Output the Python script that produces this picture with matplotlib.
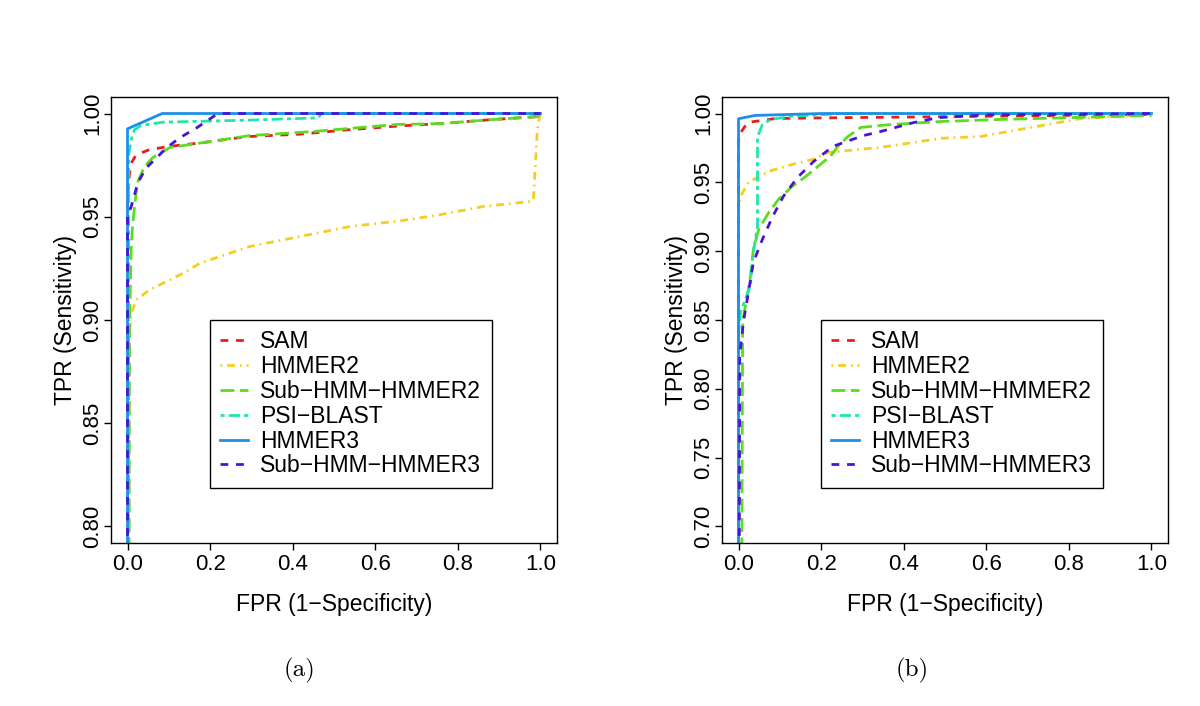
import matplotlib
matplotlib.use("Agg")
import matplotlib.pyplot as plt

plt.rcParams['font.family'] = ['Liberation Sans', 'DejaVu Sans']

# legend order / labels
methods = ['SAM', 'HMMER2', 'Sub−HMM−HMMER2', 'PSI−BLAST', 'HMMER3', 'Sub−HMM−HMMER3']

# ---- panel (a) ----
sam_a_fpr = [0, 0, 0.005, 0.009, 0.021, 0.053, 0.102, 0.182, 0.289, 0.417, 0.539, 0.66, 0.757, 0.879, 0.993, 1.0]
sam_a_tpr = [0, 0.96, 0.971, 0.976, 0.980, 0.9825, 0.9841, 0.9859, 0.9888, 0.990, 0.9922, 0.994, 0.9951, 0.997, 0.9985, 1.0]

hmmer2_a_fpr = [0, 0.003, 0.009, 0.021, 0.053, 0.094, 0.142, 0.175, 0.296, 0.417, 0.539, 0.66, 0.757, 0.862, 0.976, 0.983, 0.992, 0.9975, 1.0]
hmmer2_a_tpr = [0, 0.89, 0.903, 0.9097, 0.9146, 0.9186, 0.9234, 0.9275, 0.9356, 0.9404, 0.9453, 0.948, 0.951, 0.955, 0.9574, 0.958, 0.991, 0.9987, 1.0]

sub2_a_fpr = [0, 0.004, 0.005, 0.009, 0.012, 0.017, 0.024, 0.041, 0.061, 0.102, 0.182, 0.296, 0.45, 0.652, 0.757, 0.879, 0.993, 1.0]
sub2_a_tpr = [0, 0.80, 0.90, 0.935, 0.945, 0.955, 0.9665, 0.9743, 0.9786, 0.9835, 0.9859, 0.9893, 0.9913, 0.9947, 0.9951, 0.997, 0.9985, 1.0]

psi_a_fpr = [0, 0.003, 0.009, 0.017, 0.033, 0.085, 0.296, 0.461, 0.47, 1.0]
psi_a_tpr = [0, 0.98, 0.9874, 0.9922, 0.9942, 0.9958, 0.9968, 0.9979, 1.0, 1.0]

hmmer3_a_fpr = [0, 0, 0.084, 1.0]
hmmer3_a_tpr = [0, 0.9926, 1.0, 1.0]

sub3_a_fpr = [0, 0, 0.009, 0.017, 0.025, 0.045, 0.07, 0.094, 0.126, 0.167, 0.215, 0.225, 1.0]
sub3_a_tpr = [0, 0.950, 0.955, 0.9607, 0.9665, 0.9736, 0.9785, 0.9833, 0.9882, 0.993, 0.9995, 1.0, 1.0]

# ---- panel (b) ----
sam_b_fpr = [0, 0, 0.005, 0.022, 0.09, 0.26, 0.6, 1.0]
sam_b_tpr = [0, 0.98, 0.986, 0.9935, 0.9964, 0.997, 0.998, 0.9993]

hmmer2_b_fpr = [0, 0, 0.005, 0.024, 0.046, 0.073, 0.13, 0.18, 0.218, 0.26, 0.345, 0.425, 0.49, 0.587, 0.636, 0.709, 0.83, 1.0]
hmmer2_b_tpr = [0, 0.93, 0.94, 0.95, 0.9536, 0.958, 0.963, 0.9667, 0.9717, 0.973, 0.9754, 0.979, 0.982, 0.9833, 0.986, 0.9899, 0.9964, 0.9993]

sub2_b_fpr = [0, 0.008, 0.01, 0.024, 0.029, 0.036, 0.049, 0.073, 0.097, 0.13, 0.163, 0.204, 0.223, 0.243, 0.265, 0.296, 0.369, 0.49, 0.636, 1.0]
sub2_b_tpr = [0, 0.68, 0.849, 0.8725, 0.882, 0.9014, 0.916, 0.928, 0.9377, 0.947, 0.9543, 0.9645, 0.969, 0.977, 0.9833, 0.9899, 0.992, 0.9942, 0.9957, 0.9986]

psi_b_fpr = [0, 0, 0.005, 0.029, 0.034, 0.046, 0.046, 0.058, 0.078, 0.13, 0.25, 1.0]
psi_b_tpr = [0, 0.84, 0.856, 0.875, 0.896, 0.918, 0.983, 0.992, 0.9957, 0.998, 1.0, 1.0]

hmmer3_b_fpr = [0, 0, 0.04, 0.2, 1.0]
hmmer3_b_tpr = [0, 0.9962, 0.9986, 1.0, 1.0]

sub3_b_fpr = [0, 0.002, 0.003, 0.012, 0.024, 0.036, 0.058, 0.083, 0.109, 0.143, 0.182, 0.228, 0.255, 0.303, 0.345, 0.425, 0.483, 0.6, 1.0]
sub3_b_tpr = [0, 0.69, 0.824, 0.849, 0.870, 0.892, 0.9087, 0.9254, 0.94, 0.9536, 0.9652, 0.976, 0.979, 0.984, 0.987, 0.9935, 0.997, 0.999, 1.0]

x_ticks = [0.0, 0.2, 0.4, 0.6, 0.8, 1.0]
y_ticks_a = [0.80, 0.85, 0.90, 0.95, 1.00]
y_ticks_b = [0.70, 0.75, 0.80, 0.85, 0.90, 0.95, 1.00]

# styles mimic R lty 2/4/5/6/1/2
styles = [
    dict(color='#E61E1E', dashes=(2.8, 2.8)),
    dict(color='#F5CE1E', dashes=(0.6, 1.8, 2.8, 1.8)),
    dict(color='#5CDC1E', dashes=(5.0, 2.0)),
    dict(color='#1EE8A8', dashes=(1.5, 1.5, 4.0, 1.5)),
    dict(color='#1E8FE6'),
    dict(color='#4A14D2', dashes=(2.8, 2.8)),
]

panel_a = [(sam_a_fpr, sam_a_tpr), (hmmer2_a_fpr, hmmer2_a_tpr), (sub2_a_fpr, sub2_a_tpr),
           (psi_a_fpr, psi_a_tpr), (hmmer3_a_fpr, hmmer3_a_tpr), (sub3_a_fpr, sub3_a_tpr)]
panel_b = [(sam_b_fpr, sam_b_tpr), (hmmer2_b_fpr, hmmer2_b_tpr), (sub2_b_fpr, sub2_b_tpr),
           (psi_b_fpr, psi_b_tpr), (hmmer3_b_fpr, hmmer3_b_tpr), (sub3_b_fpr, sub3_b_tpr)]

fig = plt.figure(figsize=(12, 7.06), dpi=100)
W, H = 1200, 706
FS = 16


def draw_panel(left_px, curves, yticks, ymin, caption, cap_x):
    ax = fig.add_axes([left_px / W, 1 - 543 / H, 446 / W, 446 / H])
    for (fpr, tpr), name, st in zip(curves, methods, styles):
        ax.plot(fpr, tpr, lw=2.0, label=name, **st)

    pad = 0.04 * (1.0 - ymin)
    ax.set_xlim(-0.04, 1.04)
    ax.set_ylim(ymin - pad, 1.0 + pad)
    ax.set_xticks(x_ticks)
    ax.set_xticklabels([f"{t:.1f}" for t in x_ticks])
    ax.set_yticks(yticks)
    ax.set_yticklabels([f"{t:.2f}" for t in yticks], rotation=90, va='center')
    ax.tick_params(direction='out', length=5, width=1, labelsize=FS, pad=3)
    ax.tick_params(axis='y', pad=0.5)
    for s in ax.spines.values():
        s.set_linewidth(1.0)
    ax.set_xlabel("FPR (1−Specificity)", fontsize=FS + 0.5)
    ax.set_ylabel("TPR (Sensitivity)", fontsize=FS + 0.5)
    ax.xaxis.set_label_coords(0.5, -0.112)
    ax.yaxis.set_label_coords(-0.076, 0.5)

    leg = ax.legend(loc='upper left', bbox_to_anchor=(0.222, 0.5), fontsize=FS + 0.5,
                    handlelength=1.2, handletextpad=0.55, labelspacing=0.08,
                    borderpad=0.45, borderaxespad=0, fancybox=False, framealpha=1)
    leg.get_frame().set_edgecolor('black')
    leg.get_frame().set_linewidth(1.0)

    fig.text(cap_x / W, 1 - 670 / H, caption, fontsize=18,
             family=['cmr10', 'DejaVu Serif'], ha='center', va='center')
    return ax


draw_panel(111, panel_a, y_ticks_a, 0.80, "(a)", 300)
draw_panel(722, panel_b, y_ticks_b, 0.70, "(b)", 912)

fig.savefig("out.png", dpi=100)
